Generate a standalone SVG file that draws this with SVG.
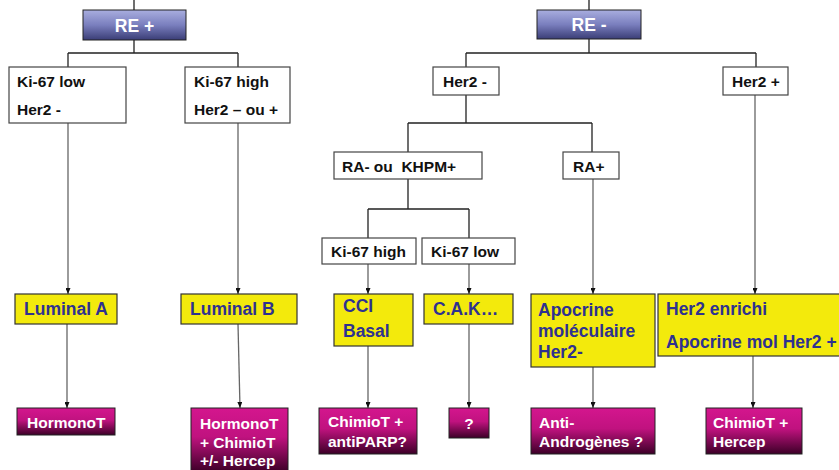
<svg xmlns="http://www.w3.org/2000/svg" width="839" height="470" viewBox="0 0 839 470">
<defs>
<linearGradient id="gHead" x1="0" y1="0" x2="0" y2="1">
<stop offset="0" stop-color="#A9AEDF"/>
<stop offset="0.5" stop-color="#7A7FBE"/>
<stop offset="1" stop-color="#3A3D76"/>
</linearGradient>
<linearGradient id="gMag" x1="0" y1="0" x2="0" y2="1">
<stop offset="0" stop-color="#D4168E"/>
<stop offset="0.45" stop-color="#C0127F"/>
<stop offset="1" stop-color="#3C0027"/>
</linearGradient>
<marker id="arr" markerWidth="6" markerHeight="5" refX="6" refY="2.5" orient="auto" markerUnits="userSpaceOnUse">
<path d="M0,0 L6,2.5 L0,5 Z" fill="#111"/>
</marker>
<style>
text{font-family:"Liberation Sans",Arial,sans-serif;font-weight:bold}
.head rect{fill:url(#gHead);stroke:#222;stroke-width:1}
.head text{fill:#fff;font-size:17.5px}
.wb rect{fill:#fff;stroke:#444;stroke-width:1.2}
.wb text{fill:#111;font-size:15.5px}
.yb rect{fill:#F3EA0C;stroke:#333;stroke-width:1.2}
.yb text{fill:#2E3190;font-size:17.5px}
.mb rect{fill:url(#gMag);stroke:#222;stroke-width:1}
.mb text{fill:#fff;font-size:15.5px}
.tree{fill:none;stroke:#222;stroke-width:1.3}
.arrow{fill:none;stroke:#666;stroke-width:1.3;marker-end:url(#arr)}
</style>
</defs>

<g id="connectors">
<path class="tree" d="M134,0 V10 M134,40 V53 M68,53 H238 M68,53 V67 M238,53 V67"/>
<path class="tree" d="M589,0 V10 M589,39 V53 M466,53 H756 M466,53 V67 M756,53 V67"/>
<path class="tree" d="M466,95 V123 M408,123 H592 M408,123 V152 M592,123 V152"/>
<path class="tree" d="M408,179 V209 M368,209 H469 M368,209 V238 M469,209 V238"/>
<path class="arrow" d="M68,123 V294"/>
<path class="arrow" d="M238,123 V294"/>
<path class="arrow" d="M368,264 V294"/>
<path class="arrow" d="M469,264 V294"/>
<path class="arrow" d="M593,179 V294"/>
<path class="arrow" d="M755,95 V294"/>
<path class="arrow" d="M67,324 V408"/>
<path class="arrow" d="M238,324 L240,408"/>
<path class="arrow" d="M368,346 V408"/>
<path class="arrow" d="M469,324 V408"/>
<path class="arrow" d="M593,367 V408"/>
<path class="arrow" d="M753,356 V408"/>
</g>

<g id="re-plus" class="head">
<rect x="83" y="10" width="103" height="30"/>
<text x="134.5" y="32" text-anchor="middle">RE +</text>
</g>
<g id="re-minus" class="head">
<rect x="537" y="10" width="104" height="29"/>
<text x="589" y="31" text-anchor="middle">RE -</text>
</g>

<g id="ki67-low-her2neg" class="wb">
<rect x="9" y="67" width="117" height="56"/>
<text x="17" y="87">Ki-67 low</text>
<text x="17" y="115">Her2 -</text>
</g>
<g id="ki67-high-her2" class="wb">
<rect x="185" y="67" width="105" height="56"/>
<text x="194" y="87">Ki-67 high</text>
<text x="194" y="115">Her2 – ou +</text>
</g>
<g id="her2-neg" class="wb">
<rect x="433" y="67" width="66" height="28"/>
<text x="443" y="87">Her2 -</text>
</g>
<g id="her2-pos" class="wb">
<rect x="723" y="67" width="65" height="28"/>
<text x="732" y="87">Her2 +</text>
</g>
<g id="ra-khpm" class="wb">
<rect x="334" y="152" width="148" height="27"/>
<text x="342" y="172" xml:space="preserve" style="white-space:pre">RA- ou  KHPM+</text>
</g>
<g id="ra-plus" class="wb">
<rect x="563" y="152" width="56" height="27"/>
<text x="573" y="172">RA+</text>
</g>
<g id="ki67-high-b" class="wb">
<rect x="322" y="238" width="94" height="26"/>
<text x="331" y="257">Ki-67 high</text>
</g>
<g id="ki67-low-b" class="wb">
<rect x="422" y="238" width="93" height="26"/>
<text x="431" y="257">Ki-67 low</text>
</g>

<g id="luminal-a" class="yb">
<rect x="15" y="294" width="102" height="30"/>
<text x="24" y="315">Luminal A</text>
</g>
<g id="luminal-b" class="yb">
<rect x="181" y="294" width="116" height="30"/>
<text x="190" y="315">Luminal B</text>
</g>
<g id="cci-basal" class="yb">
<rect x="334" y="294" width="79" height="52"/>
<text x="343" y="312">CCI</text>
<text x="343" y="337">Basal</text>
</g>
<g id="cak" class="yb">
<rect x="424" y="294" width="89" height="30"/>
<text x="433" y="315">C.A.K…</text>
</g>
<g id="apocrine" class="yb">
<rect x="531" y="294" width="124" height="73"/>
<text x="538" y="316">Apocrine</text>
<text x="538" y="337">moléculaire</text>
<text x="538" y="358">Her2-</text>
</g>
<g id="her2-enrichi" class="yb">
<rect x="658" y="294" width="190" height="62"/>
<text x="666" y="315">Her2 enrichi</text>
<text x="666" y="348">Apocrine mol Her2 +</text>
</g>

<g id="hormonot" class="mb">
<rect x="17" y="408" width="98" height="27"/>
<text x="27" y="428">HormonoT</text>
</g>
<g id="hormonot-chimiot" class="mb">
<rect x="191" y="408" width="97" height="64"/>
<text x="200" y="429">HormonoT</text>
<text x="200" y="448">+ ChimioT</text>
<text x="200" y="466">+/- Hercep</text>
</g>
<g id="chimiot-antiparp" class="mb">
<rect x="319" y="408" width="98" height="46"/>
<text x="328" y="427">ChimioT +</text>
<text x="328" y="447">antiPARP?</text>
</g>
<g id="question" class="mb">
<rect x="449" y="408" width="40" height="30"/>
<text x="469" y="429" text-anchor="middle">?</text>
</g>
<g id="anti-androgenes" class="mb">
<rect x="531" y="408" width="124" height="46"/>
<text x="539" y="428">Anti-</text>
<text x="539" y="447">Androgènes ?</text>
</g>
<g id="chimiot-hercep" class="mb">
<rect x="706" y="408" width="96" height="46"/>
<text x="713" y="428">ChimioT +</text>
<text x="713" y="447">Hercep</text>
</g>
</svg>
